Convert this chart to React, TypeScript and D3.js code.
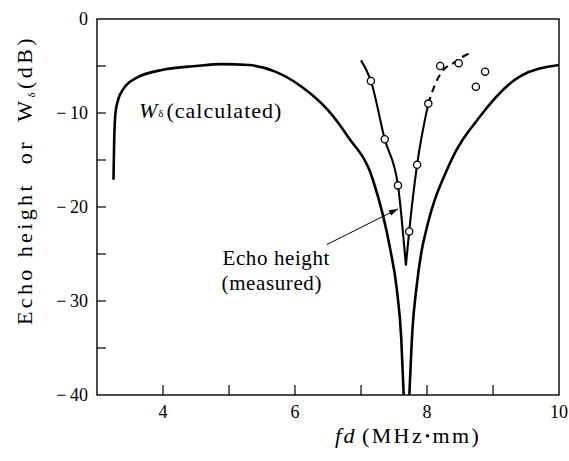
import React from 'react';
import * as d3 from 'd3';

const width = 569;
const height = 461;

// fd (MHz·mm) axis ticks, dB axis ticks
const xTickLabels = [4, 6, 8, 10];
const xMinorTicks = [4, 5, 6, 7, 8, 9];
const yTickLabels = [0, -10, -20, -30, -40];
const yMinorTicks = [-5, -10, -15, -20, -25, -30, -35];

// W_delta (calculated), split at the null near fd = 7.7
const calcLeft: [number, number][] = [
  [3.25, -17.1], [3.26, -13], [3.28, -10], [3.32, -8.6], [3.39, -7.55],
  [3.59, -6.3], [4.0, -5.4], [4.5, -5.0], [4.9, -4.8], [5.3, -4.9],
  [5.7, -5.6], [6.1, -7.2], [6.5, -9.7], [6.8, -12.5], [7.18, -17.1],
  [7.44, -24.4], [7.54, -28.6], [7.61, -34], [7.65, -40.5],
];
const calcRight: [number, number][] = [
  [7.73, -40.5], [7.78, -33], [7.84, -28.6], [7.92, -24.6], [7.99, -22.4],
  [8.35, -15.3], [8.8, -10.4], [9.41, -6.1], [10, -4.9],
];

// echo height (measured) curve
const measLeft: [number, number][] = [
  [7.0, -4.4], [7.15, -6.6], [7.36, -12.8], [7.56, -17.7], [7.68, -26.2],
];
const measRight: [number, number][] = [
  [7.68, -26.2], [7.73, -22.6], [7.85, -15.5], [8.02, -9.0],
];
const measDashed: [number, number][] = [
  [8.02, -9.0], [8.12, -7.0], [8.25, -5.4], [8.4, -4.7], [8.52, -4.1], [8.66, -3.6],
];
// measured points
const measPoints: [number, number][] = [
  [7.15, -6.6], [7.36, -12.8], [7.56, -17.7], [7.73, -22.6], [7.85, -15.5],
  [8.02, -9.0], [8.2, -5.0], [8.48, -4.7], [8.74, -7.2], [8.88, -5.6],
];

const font = '"Liberation Serif", "DejaVu Serif", serif';

export default function App() {
  const x = d3.scaleLinear().domain([3, 10]).range([97, 559]);
  const y = d3.scaleLinear().domain([0, -40]).range([19, 395]);
  const [x0, x1] = x.range();
  const [y0, y1] = y.range();

  const line = d3
    .line<[number, number]>()
    .x((d) => x(d[0]))
    .y((d) => y(d[1]))
    .curve(d3.curveMonotoneX);

  // arrow from label to measured curve
  const a0 = [x(6.48), y(-24.0)];
  const a1 = [x(7.56), y(-20.2)];
  const ang = Math.atan2(a1[1] - a0[1], a1[0] - a0[0]);
  const head = [
    [a1[0], a1[1]],
    [a1[0] - 9 * Math.cos(ang) + 3 * Math.sin(ang), a1[1] - 9 * Math.sin(ang) - 3 * Math.cos(ang)],
    [a1[0] - 9 * Math.cos(ang) - 3 * Math.sin(ang), a1[1] - 9 * Math.sin(ang) + 3 * Math.cos(ang)],
  ];

  return (
    <svg
      width={width}
      height={height}
      style={{ position: 'absolute', left: 0, top: 0, background: '#fff' }}
      fontFamily={font}
    >
      <defs>
        <clipPath id="plot">
          <rect x={x0} y={y0} width={x1 - x0} height={y1 - y0} />
        </clipPath>
      </defs>

      {/* frame */}
      <rect x={x0} y={y0} width={x1 - x0} height={y1 - y0} fill="none" stroke="#000" strokeWidth={1.4} />

      {xMinorTicks.map((t) => (
        <line key={'xt' + t} x1={x(t)} x2={x(t)} y1={y1} y2={y1 - 10} stroke="#000" strokeWidth={1.2} />
      ))}
      {yMinorTicks.map((t) => (
        <line key={'yt' + t} x1={x0} x2={x0 + 9} y1={y(t)} y2={y(t)} stroke="#000" strokeWidth={1.2} />
      ))}

      {xTickLabels.map((t) => (
        <text key={'xl' + t} x={x(t)} y={y1 + 23} fontSize={18} textAnchor="middle">
          {t}
        </text>
      ))}
      {yTickLabels.map((t) => (
        <text key={'yl' + t} x={x0 - 9} y={y(t) + 6} fontSize={18} textAnchor="end">
          {t === 0 ? '0' : '\u2212\u2009' + Math.abs(t)}
        </text>
      ))}

      {/* axis titles */}
      <text x={335} y={443} fontSize={22} letterSpacing={2.4}>
        <tspan fontStyle="italic">fd</tspan>
        <tspan dx={5}>(MHz</tspan>
        <tspan fontSize={14} dy={-2} dx={1}>•</tspan>
        <tspan dy={2}>mm)</tspan>
      </text>
      <text
        transform={`translate(32, 180) rotate(-90)`}
        fontSize={22}
        textAnchor="middle"
        letterSpacing={3.4}
      >
        {'Echo height\u00a0 or\u00a0 W'}
        <tspan fontSize={11} dy={3}>δ</tspan>
        <tspan dy={-3}>(dB)</tspan>
      </text>

      <g clipPath="url(#plot)" fill="none" stroke="#000">
        <path d={line(calcLeft) || ''} strokeWidth={2.6} />
        <path d={line(calcRight) || ''} strokeWidth={2.6} />
        <path d={line(measLeft) || ''} strokeWidth={2.1} />
        <path d={line(measRight) || ''} strokeWidth={2.1} />
        <path d={line(measDashed) || ''} strokeWidth={2.1} strokeDasharray="7 5" />
      </g>

      {measPoints.map((p, i) => (
        <circle key={'p' + i} cx={x(p[0])} cy={y(p[1])} r={3.6} fill="#fff" stroke="#000" strokeWidth={1.3} />
      ))}

      {/* annotations */}
      <text x={139} y={118} fontSize={22} letterSpacing={1}>
        <tspan fontStyle="italic">W</tspan>
        <tspan fontSize={11} dy={-1}>δ</tspan>
        <tspan dy={1} dx={2}>(calculated)</tspan>
      </text>
      <text x={330} y={265} fontSize={21} textAnchor="end" letterSpacing={0.6}>
        Echo height
      </text>
      <text x={322} y={290} fontSize={21} textAnchor="end" letterSpacing={0.6}>
        (measured)
      </text>
      <line x1={a0[0]} y1={a0[1]} x2={a1[0]} y2={a1[1]} stroke="#000" strokeWidth={1} />
      <polygon points={head.map((p) => p.join(',')).join(' ')} fill="#000" />
    </svg>
  );
}
